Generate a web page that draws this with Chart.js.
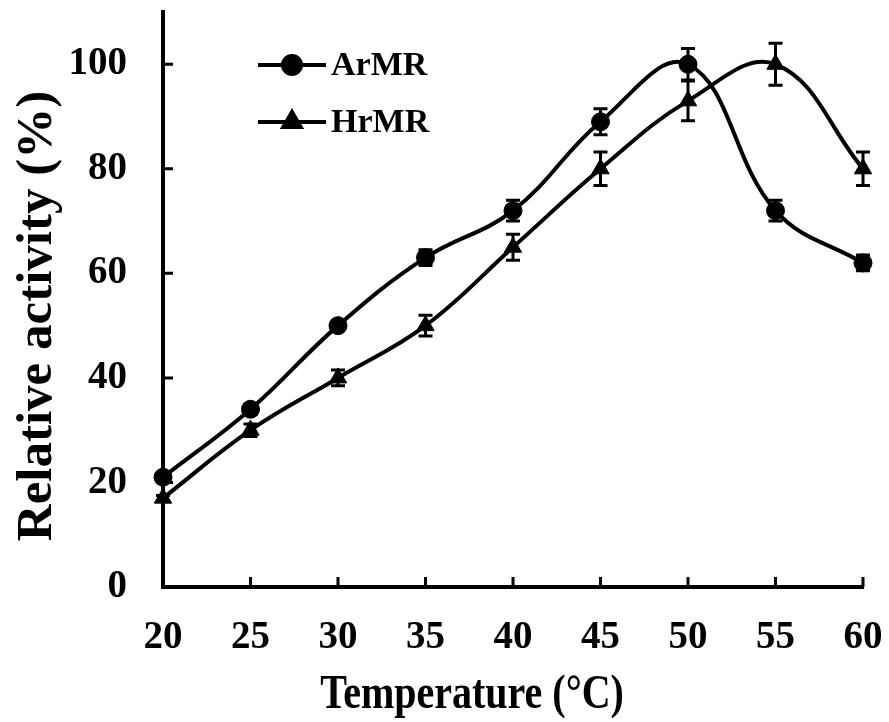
<!DOCTYPE html>
<html>
<head>
<meta charset="utf-8">
<script src="https://cdn.jsdelivr.net/npm/chart.js@4/dist/chart.umd.min.js"></script>
<style>
html, body { margin: 0; padding: 0; background: #fff; }
#graph_activity { display: block; }
</style>
</head>
<body>
<canvas id="graph_activity" width="889" height="722"></canvas>
<script>
// temperature (C) and relative activity (%)
var temps = [20, 25, 30, 35, 40, 45, 50, 55, 60]
var armr = [21, 34, 50, 63, 72, 89, 100, 72, 62]
var armrErr = [0.5, 1, 1, 1.5, 2, 2.5, 3, 2, 1.5]
var hrmr = [17, 30, 40, 50, 65, 80, 93, 100, 80]
var hrmrErr = [0.5, 1.2, 1.5, 2, 2.5, 3.2, 3.8, 4, 3.2]
var yTicks = [0, 20, 40, 60, 80, 100]
var xTitle = 'Temperature (°C)'
var yTitle = 'Relative activity (%)'

var FONT = '"Liberation Serif", "Times New Roman", serif'

function toPoints(xs, ys) {
	var p = []
	for (var i = 0; i < xs.length; i++) {
		p.push({ x: xs[i], y: ys[i] })
	}
	return p
}

// error bars, drawn through the chart scales
var errorBarPlugin = {
	id: 'errorBars',
	afterDatasetsDraw: function (chart) {
		var ctx = chart.ctx
		var xs = chart.scales.x
		var ys = chart.scales.y
		ctx.save()
		ctx.strokeStyle = '#000'
		ctx.lineWidth = 3
		chart.data.datasets.forEach(function (ds) {
			for (var i = 0; i < ds.data.length; i++) {
				var px = xs.getPixelForValue(ds.data[i].x)
				var top = ys.getPixelForValue(ds.data[i].y + ds.errors[i])
				var bot = ys.getPixelForValue(ds.data[i].y - ds.errors[i])
				ctx.beginPath()
				ctx.moveTo(px, top); ctx.lineTo(px, bot)
				ctx.moveTo(px - 7, top); ctx.lineTo(px + 7, top)
				ctx.moveTo(px - 7, bot); ctx.lineTo(px + 7, bot)
				ctx.stroke()
			}
		})
		ctx.restore()
	}
}

// short tick marks pointing into the plot
var innerTicksPlugin = {
	id: 'innerTicks',
	afterDraw: function (chart) {
		var ctx = chart.ctx
		var a = chart.chartArea
		ctx.save()
		ctx.strokeStyle = '#000'
		ctx.lineWidth = 3
		ctx.beginPath()
		chart.scales.x.ticks.forEach(function (t) {
			var px = chart.scales.x.getPixelForValue(t.value)
			ctx.moveTo(px, a.bottom); ctx.lineTo(px, a.bottom - 10)
		})
		chart.scales.y.ticks.forEach(function (t) {
			var py = chart.scales.y.getPixelForValue(t.value)
			ctx.moveTo(a.left, py); ctx.lineTo(a.left + 10, py)
		})
		ctx.stroke()
		ctx.restore()
	}
}

// axis titles (the original lettering is a bit tall, hence the scale)
var axisTitlePlugin = {
	id: 'axisTitles',
	afterDraw: function (chart) {
		var ctx = chart.ctx
		ctx.save()
		ctx.fillStyle = '#000'
		ctx.textAlign = 'center'
		ctx.textBaseline = 'alphabetic'
		ctx.font = 'bold 40px ' + FONT
		ctx.translate(472, 708)
		ctx.scale(1, 1.2)
		ctx.fillText(xTitle, 0, 0)
		ctx.restore()

		ctx.save()
		ctx.fillStyle = '#000'
		ctx.textAlign = 'center'
		ctx.textBaseline = 'alphabetic'
		ctx.font = 'bold 51px ' + FONT
		ctx.translate(51, 316)
		ctx.rotate(-Math.PI / 2)
		ctx.fillText(yTitle, 0, 0)
		ctx.restore()
	}
}

// legend box in the upper left of the plot
var legendPlugin = {
	id: 'innerLegend',
	afterDraw: function (chart) {
		var ctx = chart.ctx
		var rows = [65, 122]
		ctx.save()
		chart.data.datasets.forEach(function (ds, i) {
			var y = rows[i]
			ctx.strokeStyle = '#000'
			ctx.lineWidth = 4
			ctx.beginPath()
			ctx.moveTo(258, y); ctx.lineTo(326, y)
			ctx.stroke()
			Chart.helpers.drawPoint(ctx, {
				pointStyle: ds.pointStyle,
				radius: ds.pointRadius,
				borderWidth: 1
			}, 292, y)
			ctx.fillStyle = '#000'
			ctx.font = 'bold 34px ' + FONT
			ctx.textBaseline = 'middle'
			ctx.textAlign = 'left'
			ctx.fillText(ds.label, 331, y + 1)
		})
		ctx.restore()
	}
}

var config = {
	type: 'line',
	data: {
		datasets: [{
			label: 'ArMR',
			data: toPoints(temps, armr),
			errors: armrErr,
			borderColor: '#000',
			backgroundColor: '#000',
			borderWidth: 4,
			tension: 0.4,
			pointStyle: 'circle',
			pointRadius: 9,
			pointBorderWidth: 1
		}, {
			label: 'HrMR',
			data: toPoints(temps, hrmr),
			errors: hrmrErr,
			borderColor: '#000',
			backgroundColor: '#000',
			borderWidth: 4,
			tension: 0.4,
			pointStyle: 'triangle',
			pointRadius: 10,
			pointBorderWidth: 1
		}]
	},
	options: {
		responsive: false,
		animation: false,
		clip: false,
		layout: { padding: { top: 12, right: 26, left: 0, bottom: 0 } },
		plugins: {
			legend: { display: false },
			tooltip: { enabled: false }
		},
		scales: {
			x: {
				type: 'linear',
				min: 20,
				max: 60,
				afterFit: function (s) {
					s.height = 135
					s.paddingLeft = 0
					s.paddingRight = 0
				},
				grid: { display: false, drawTicks: false },
				border: { display: true, color: '#000', width: 4 },
				ticks: {
					stepSize: 5,
					padding: 28,
					color: '#000',
					maxRotation: 0,
					font: { family: FONT, size: 39, weight: 'bold' }
				}
			},
			y: {
				min: 0,
				max: 110,
				afterFit: function (s) {
					s.width = 163
					s.paddingTop = 0
					s.paddingBottom = 0
				},
				afterBuildTicks: function (s) {
					s.ticks = yTicks.map(function (v) { return { value: v } })
				},
				grid: { display: false, drawTicks: false },
				border: { display: true, color: '#000', width: 4 },
				ticks: {
					padding: 36,
					color: '#000',
					font: { family: FONT, size: 39, weight: 'bold' }
				}
			}
		}
	},
	plugins: [errorBarPlugin, innerTicksPlugin, axisTitlePlugin, legendPlugin]
}

window.activityGraph = new Chart(document.getElementById('graph_activity'), config)
</script>
</body>
</html>
